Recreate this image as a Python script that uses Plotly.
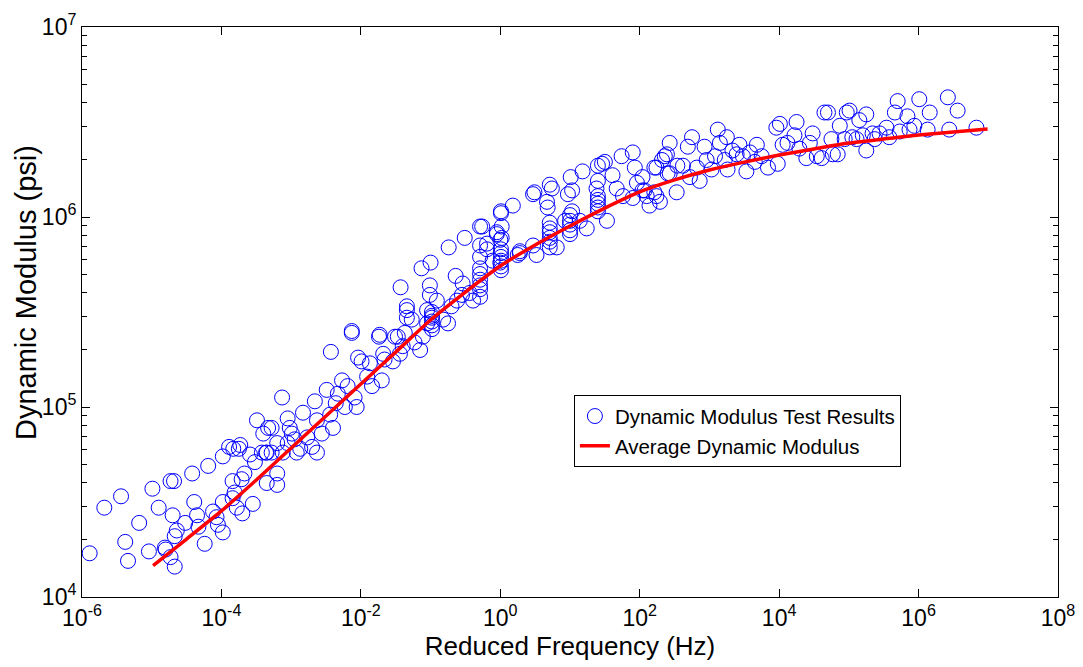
import numpy as np
import plotly.graph_objects as go

# Test results: log10 of reduced frequency (Hz) and log10 of dynamic modulus (psi)
test_log_freq = [
    -5.89, -5.68, -5.44, -5.38, -5.34, -5.18, -5.04, -4.99, -4.90, -4.81, -4.80, -4.73, -4.67, -4.70,
    -4.73, -4.68, -4.64, -4.67, -4.52, -4.42, -4.39, -4.35, -4.33, -4.24, -4.19, -4.12, -4.07, -4.05,
    -3.98, -3.98, -3.98, -3.89, -3.84, -3.84, -3.81, -3.75, -3.78, -3.71, -3.70, -3.67, -3.55, -3.52,
    -3.42, -3.35, -3.36, -3.28, -3.20, -3.20,
    -3.73, -3.83, -3.49, -3.40, -3.33, -3.28, -3.13, -3.05, -3.02, -2.99, -2.95, -3.05, -2.87, -2.83,
    -2.77, -2.70, -2.66, -2.63, -2.56, -2.49, -2.44, -2.40, -2.36, -2.33, -2.27, -2.23, -2.19, -2.09,
    -2.06, -2.04, -1.99, -1.91, -1.87, -1.84, -1.70, -1.68, -1.66, -1.74, -2.13, -2.43, -1.54, -1.51,
    -1.44, -1.40, -1.37, -1.34, -1.27, -1.23, -1.15, -1.11, -1.05, -1.05,
    -3.59, -3.35, -3.20, -3.12, -2.92, -2.63,
    -2.13, -1.73, -1.47, -1.43, -1.34, -1.34, -1.13, -1.00, -1.01, -1.01,
    -0.98, -0.98, -0.98, -0.98, -0.98, -0.98,
    -0.91, -0.82, -0.75, -0.74, -0.70, -0.64, -0.62, -0.55, -0.54, -0.51, -0.44, -0.39,
    -0.29, -0.29, -0.29, -0.29, -0.29, -0.29, -0.29, -0.29, -0.29,
    -0.05, 0.01, 0.02, 0.00, 0.01, 0.01, 0.01, 0.01, 0.01, 0.01,
    0.18, 0.25, 0.28, 0.47,
    -0.26, -0.19, -0.19, -0.11, -0.05, 0.02, 0.01, 0.00, 0.28, 0.47, 0.52, 0.49, 0.67, 0.71, 0.74, 0.68,
    0.71, 0.71, 0.71, 0.71, 0.71, 0.71,
    0.81, 0.93, 0.97, 1.03, 1.01, 1.03,
    1.00, 1.00, 1.00, 1.00, 1.00,
    1.14, 1.18, 1.24, 1.40, 1.46, 1.50, 1.40, 1.38,
    1.40, 1.40, 1.40, 1.40, 1.40,
    1.53, 1.61, 1.67, 1.74, 1.76, 1.90, 1.93, 1.96, 1.90, 2.04, 2.07, 2.10, 2.24, 2.21, 2.32, 2.39,
    2.43, 2.43, 2.53, 2.54,
    2.04, 2.21, 2.24, 2.36, 2.40, 2.62, 2.69, 2.75, 2.72, 2.82, 2.86, 2.93, 2.96, 3.03, 3.08, 3.12,
    3.15, 3.25, 3.22, 3.26, 3.33, 3.39, 3.43, 3.48, 3.53, 3.58, 3.65, 3.68, 3.75, 3.84, 3.96, 3.98,
    4.01, 4.05, 4.12, 4.22, 4.25, 4.29, 4.39, 4.44, 4.48, 4.54, 4.65, 4.70, 4.77,
    4.61, 4.75, 4.84, 4.87, 4.97, 5.01, 5.05, 5.15, 5.20, 5.25, 5.25, 5.34, 5.44, 5.54, 5.66, 5.70,
    5.73, 5.84, 5.87, 5.94, 6.01, 6.16, 6.13, 6.42, 6.44, 6.56, 6.83,
    2.14, 2.29, 4.94, 5.11, 5.37, 5.58,
]
test_log_modulus = [
    4.23, 4.47, 4.53, 4.29, 4.19, 4.39, 4.24, 4.57, 4.47, 4.26, 4.25, 4.21, 4.16, 4.43,
    4.61, 4.61, 4.35, 4.32, 4.39, 4.65, 4.50, 4.43, 4.37, 4.28, 4.69, 4.45, 4.42, 4.38,
    4.34, 4.74, 4.50, 4.79, 4.61, 4.52, 4.55, 4.78, 4.47, 4.62, 4.44, 4.65, 4.49, 4.71,
    4.76, 4.60, 4.76, 4.76, 4.59, 4.65,
    4.80, 4.78, 4.93, 4.86, 4.89, 4.89, 5.05, 4.94, 4.89, 4.86, 4.83, 4.81, 4.78, 4.97,
    4.84, 4.79, 5.03, 4.93, 4.86, 5.09, 4.96, 4.89, 5.02, 5.07, 5.14, 5.00, 5.11, 5.05,
    5.00, 5.26, 5.24, 5.16, 5.23, 5.11, 5.14, 5.28, 5.25, 5.37, 5.39, 5.29, 5.24, 5.37,
    5.28, 5.32, 5.39, 5.51, 5.46, 5.34, 5.30, 5.37, 5.51, 5.44,
    4.75, 4.76, 4.81, 4.76, 4.76, 4.76,
    5.40, 5.38, 5.37, 5.63, 5.53, 5.47, 5.73, 5.76, 5.64, 5.59,
    5.50, 5.48, 5.47, 5.45, 5.43, 5.41,
    5.56, 5.46, 5.44, 5.84, 5.53, 5.69, 5.56, 5.59, 5.65, 5.89, 5.60, 5.56,
    5.95, 5.85, 5.79, 5.73, 5.70, 5.67, 5.64, 5.62, 5.58,
    5.91, 6.02, 5.95, 5.88, 5.83, 5.81, 5.79, 5.77, 5.74, 5.72,
    6.06, 5.80, 5.82, 6.12,
    5.95, 5.86, 5.83, 5.77, 5.92, 5.89, 6.03, 5.76, 5.81, 5.85, 5.80, 6.13, 6.08, 6.17, 6.15, 6.05,
    5.97, 5.94, 5.92, 5.89, 5.87, 5.84,
    5.84, 5.98, 6.12, 6.14, 6.21, 6.03,
    6.01, 5.98, 5.96, 5.93, 5.91,
    5.98, 6.24, 5.94, 6.27, 6.28, 6.29, 6.19, 6.15,
    6.11, 6.09, 6.07, 6.05, 6.03,
    5.98, 6.22, 6.15, 6.32, 6.11, 6.34, 6.26, 6.18, 6.10, 6.21, 6.14, 6.11, 6.11, 6.26, 6.30, 6.33,
    6.39, 6.23, 6.13, 6.27,
    6.14, 6.13, 6.26, 6.32, 6.23, 6.27, 6.37, 6.42, 6.21, 6.26, 6.19, 6.37, 6.30, 6.25, 6.32, 6.46,
    6.39, 6.42, 6.30, 6.25, 6.35, 6.33, 6.38, 6.32, 6.24, 6.34, 6.29, 6.38, 6.32, 6.26, 6.47, 6.28,
    6.49, 6.38, 6.39, 6.43, 6.50, 6.36, 6.31, 6.39, 6.44, 6.32, 6.55, 6.55, 6.33,
    6.31, 6.41, 6.33, 6.48, 6.55, 6.56, 6.42, 6.51, 6.43, 6.54, 6.35, 6.44, 6.44, 6.47, 6.55, 6.61,
    6.45, 6.53, 6.46, 6.48, 6.62, 6.55, 6.46, 6.63, 6.46, 6.56, 6.47,
    6.06, 6.08, 6.41, 6.41, 6.41, 6.42,
]

# Average master curve
avg_log_freq = [-4.98, -4.5, -4.0, -3.5, -3.0, -2.5, -2.0, -1.5, -1.0, -0.5, 0.0, 0.5, 1.0, 1.5,
                2.0, 2.5, 3.0, 3.5, 4.0, 4.5, 5.0, 5.5, 6.0, 6.5, 6.99]
avg_log_modulus = [4.165, 4.305, 4.453, 4.616, 4.784, 4.953, 5.121, 5.289, 5.458, 5.605, 5.742,
                   5.853, 5.953, 6.047, 6.132, 6.195, 6.247, 6.289, 6.326, 6.358, 6.389, 6.411,
                   6.432, 6.447, 6.463]

# Axis tick labels
x_tick_exponents = [-6, -4, -2, 0, 2, 4, 6, 8]
y_tick_exponents = [4, 5, 6, 7]

test_freq = 10 ** np.array(test_log_freq)
test_modulus = 10 ** np.array(test_log_modulus)
avg_freq = 10 ** np.array(avg_log_freq)
avg_modulus = 10 ** np.array(avg_log_modulus)

FONT = "Liberation Sans, Arial, sans-serif"

fig = go.Figure()
fig.add_trace(go.Scatter(
    x=test_freq, y=test_modulus, mode="markers", name="Dynamic Modulus Test Results",
    marker=dict(symbol="circle-open", size=15, color="#0000ff", line=dict(width=1, color="#0000ff")),
))
fig.add_trace(go.Scatter(
    x=avg_freq, y=avg_modulus, mode="lines", name="Average Dynamic Modulus",
    line=dict(color="#ff0000", width=3.5, shape="spline", smoothing=0.6),
))

axis_common = dict(
    showgrid=False, zeroline=False, showline=True, linecolor="black", linewidth=1,
    mirror="ticks", ticks="inside", ticklen=8, tickcolor="black", automargin=False,
    tickfont=dict(family=FONT, size=23, color="black"),
)

fig.update_xaxes(
    type="log", range=[-6, 8],
    tickvals=[10.0 ** e for e in x_tick_exponents],
    ticktext=[f"10<sup>{e}</sup>" for e in x_tick_exponents],
    title=dict(text="Reduced Frequency (Hz)", font=dict(family=FONT, size=26, color="black"), standoff=0),
    **axis_common,
)
fig.update_yaxes(
    type="log", range=[4, 7],
    tickvals=[10.0 ** e for e in y_tick_exponents],
    ticktext=[f"10<sup>{e}</sup>" for e in y_tick_exponents],
    minor=dict(ticks="inside", ticklen=5, tickcolor="black", dtick="D1", showgrid=False),
    **axis_common,
)

# Y axis title, placed as in the reference (slightly above the plot's middle)
fig.add_annotation(
    text="Dynamic Modulus (psi)", textangle=-90, showarrow=False,
    xref="paper", yref="paper", x=-0.0574, y=0.535, xanchor="center", yanchor="middle",
    font=dict(family=FONT, size=29, color="black"),
)

# The page body has an 8 px margin, so the figure is sized and margined to place
# the plot area at x 82-1058 and y 27-597 of the 1083x667 window.
fig.update_layout(
    width=1075, height=659,
    margin=dict(l=74, r=25, t=19, b=70, autoexpand=False),
    plot_bgcolor="white", paper_bgcolor="white",
    font=dict(family=FONT, size=20, color="black"),
    showlegend=True,
    legend=dict(
        x=0.504, y=0.354, xanchor="left", yanchor="top",
        bgcolor="white", bordercolor="black", borderwidth=1,
        font=dict(family=FONT, size=20.5, color="black"),
        tracegroupgap=0, itemwidth=30,
    ),
)

fig.write_html("out.html")
